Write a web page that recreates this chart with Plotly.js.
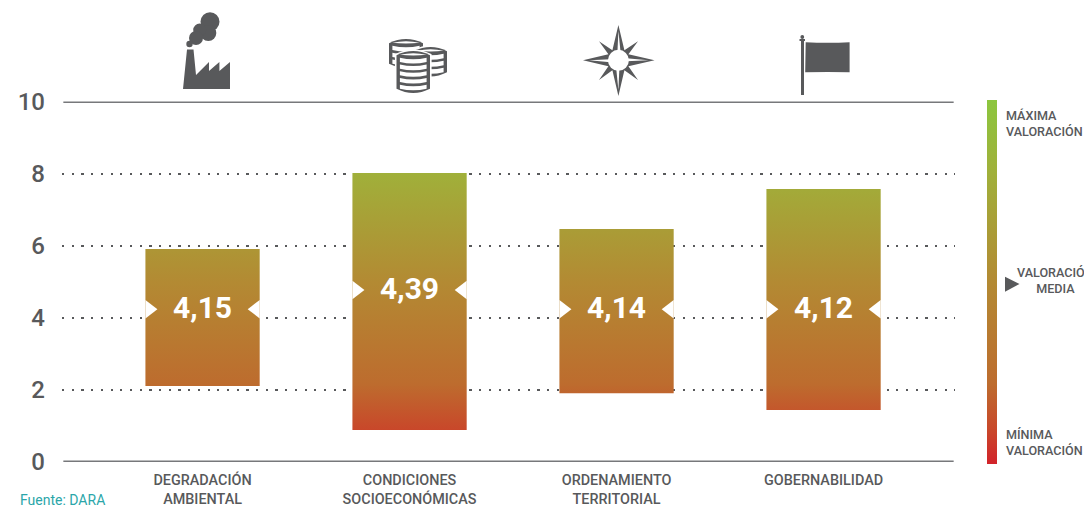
<!DOCTYPE html>
<html><head><meta charset="utf-8">
<script src="https://cdn.plot.ly/plotly-3.0.1.min.js"></script>
<style>html,body{margin:0;padding:0;background:#fff;overflow:hidden}</style></head>
<body><div id="chart" style="width:1084px;height:507px"></div>
<script>
// ---- data ----
const categories = ['DEGRADACIÓN<br>AMBIENTAL','CONDICIONES<br>SOCIOECONÓMICAS','ORDENAMIENTO<br>TERRITORIAL','GOBERNABILIDAD<br> '];
const barPositions = [0,1,2,3];
const barLow  = [2.11,0.89,1.91,1.44];
const barHigh = [5.91,8.02,6.46,7.57];
const meanPosition = [4.24,4.77,4.24,4.24];
const meanLabels = ['4,15','4,39','4,14','4,12'];
const yTicks = [0,2,4,6,8,10];

// ---- style ----
const GREY='#58595b', W=1084, H=507;
const scale=[[0,'#d2232a'],[0.09,'#c9462a'],[0.22,'#bd6c2e'],[0.5,'#b38a33'],[0.8,'#a0b03a'],[1,'#8cc63f']];
const halfW=0.276, inset=0.0193, labelNudge=0.04;
const gradient={type:'vertical',colorscale:scale,start:-0.055,stop:10.04};
const FONT='Roboto, sans-serif';

const traces=[];
barPositions.forEach((p,i)=>{
  traces.push({type:'scatter',mode:'none',xaxis:'x',yaxis:'y',showlegend:false,hoverinfo:'skip',
    x:[p-halfW,p+halfW,p+halfW,p-halfW,p-halfW],
    y:[barLow[i],barLow[i],barHigh[i],barHigh[i],barLow[i]],
    fill:'toself',fillgradient:gradient});
});
traces.push({type:'scatter',mode:'markers',xaxis:'x',yaxis:'y',showlegend:false,hoverinfo:'skip',
  x:barPositions.map(p=>p-halfW+inset),y:meanPosition,
  marker:{symbol:'triangle-right',size:16,color:'#fff'}});
traces.push({type:'scatter',mode:'markers',xaxis:'x',yaxis:'y',showlegend:false,hoverinfo:'skip',
  x:barPositions.map(p=>p+halfW-inset),y:meanPosition,
  marker:{symbol:'triangle-left',size:16,color:'#fff'}});
traces.push({type:'scatter',mode:'text',xaxis:'x',yaxis:'y',showlegend:false,hoverinfo:'skip',
  x:barPositions,y:meanPosition.map(v=>v-labelNudge),text:meanLabels,textposition:'middle center',
  textfont:{family:FONT,size:30,color:'#fff',weight:700}});
// colour key, in page pixels
traces.push({type:'scatter',mode:'none',xaxis:'x2',yaxis:'y2',showlegend:false,hoverinfo:'skip',
  x:[987,997,997,987,987],y:[464,464,100,100,464],fill:'toself',
  fillgradient:{type:'vertical',colorscale:scale,start:464,stop:100}});

// ---- icons, in page pixels ----
const shapes=[
  {type:'line',xref:'x domain',yref:'y',x0:0.0015,x1:0.9985,y0:10,y1:10,line:{color:'#77787b',width:3}},
  {type:'line',xref:'x domain',yref:'y',x0:0.0015,x1:0.9985,y0:0,y1:0,line:{color:'#77787b',width:3}}
];
const px=(path,fill,extra)=>shapes.push(Object.assign({type:'path',xref:'x2',yref:'y2',path,fillcolor:fill,line:{width:0}},extra||{}));
const circ=(cx,cy,r,fill)=>shapes.push({type:'circle',xref:'x2',yref:'y2',x0:cx-r,x1:cx+r,y0:cy-r,y1:cy+r,fillcolor:fill,line:{width:0}});
// factory
px('M183,89 L187,49.5 L193.5,49.5 L196,75 L209,62 L209,71 L219.4,62 L219.4,71 L230,62 L230,89 Z',GREY);
[[210,21.7,9.5],[208.3,33,8],[199.7,30,6.5],[196,38,7],[189.5,44,3.2]].forEach(c=>circ(c[0],c[1],c[2],GREY));
// coins
function stack(x0,x1,yT,yB,n){
  const cx=(x0+x1)/2, b=4.2;
  px(`M${x0},${yT+b} Q${cx},${yT-b} ${x1},${yT+b} L${x1},${yB-b} Q${cx},${yB+b} ${x0},${yB-b} Z`,'#fff',{line:{width:3.2,color:'#fff'}});
  px(`M${x0},${yT+b} Q${cx},${yT-b} ${x1},${yT+b} L${x1},${yB-b} Q${cx},${yB+b} ${x0},${yB-b} Z`,GREY);
  const m=3.4; const step=(yB-yT-2*b)/n;
  px(`M${x0+m},${yT+b-0.4} Q${cx},${yT-b+5} ${x1-m},${yT+b-0.4} Q${cx},${yT+b+1.2} ${x0+m},${yT+b-0.4} Z`,'#fff');
  for(let k=0;k<n;k++){
    const y=yT+b+step*k+2.6, h=step-2.6;
    px(`M${x0+m},${y} Q${cx},${y+3} ${x1-m},${y} L${x1-m},${y+h} Q${cx},${y+h+3} ${x0+m},${y+h} Z`,'#fff');
  }
}
stack(389,423,39,68,3); stack(414,447,47,76.5,3); stack(396.5,430,51,93,5);
// compass star
const cx=618.4, cy=60.3;
px(`M${cx},25 L${cx+6},${cy-10} L638,41.3 L${cx+10},${cy-6} L654.5,${cy} L${cx+10},${cy+6} L638,80 L${cx+6},${cy+10} L${cx},96 L${cx-6},${cy+10} L599,80 L${cx-10},${cy+6} L583,${cy} L${cx-10},${cy-6} L599,41.3 L${cx-6},${cy-10} Z`,GREY);
px(`M${cx},31 L${cx+2.2},${cy-8} L${cx-1},${cy-8} Z`,'#fff');
px(`M${cx},90 L${cx-2.2},${cy+8} L${cx+1},${cy+8} Z`,'#fff');
px(`M589,${cy} L${cx-8},${cy+2} L${cx-8},${cy-1} Z`,'#fff');
px(`M648.5,${cy} L${cx+8},${cy-2} L${cx+8},${cy+1} Z`,'#fff');
circ(cx,cy,10.5,'#fff');
// flag
px('M801,39 H804 V95 H801 Z',GREY);
px('M799.5,39 H805 V41 H799.5 Z',GREY);
circ(802.3,37,1.9,GREY);
px('M805.7,42.2 Q828,43.2 849.6,42.2 L849.6,72.3 Q828,71.6 805.2,72.3 Z',GREY);
// key marker
px('M1005,276.7 L1019.5,284 L1005,291.7 Z',GREY);

const txt=(x,y,text,anchor,align,size,color,weight)=>({xref:'x2',yref:'y2',x,y,text,xanchor:anchor,yanchor:'middle',align,showarrow:false,
  font:{family:FONT,size,color,weight}});
const annotations=[
  txt(1004,123.5,'MÁXIMA<br>VALORACIÓN','left','left',12.6,GREY,500),
  txt(1055.5,280.5,'VALORACIÓN<br>MEDIA','center','center',12.6,GREY,500),
  txt(1004,442.5,'MÍNIMA<br>VALORACIÓN','left','left',12.6,GREY,500),
  txt(18,500,'Fuente: DARA','left','left',14,'#2ba6a9',400)
];

const layout={
  width:W,height:H,margin:{l:0,r:0,t:0,b:0},paper_bgcolor:'#fff',plot_bgcolor:'rgba(0,0,0,0)',showlegend:false,
  xaxis:{domain:[62/W,955/W],range:[-0.679,3.635],anchor:'y',tickmode:'array',tickvals:barPositions,ticktext:categories,
    tickangle:0,ticks:'',showgrid:false,zeroline:false,showline:false,
    ticklabelstandoff:8,tickfont:{family:FONT,size:14.4,color:GREY,weight:500}},
  yaxis:{domain:[(H-462)/H,(H-101.5)/H],range:[0,10],anchor:'x',tickmode:'array',tickvals:yTicks,ticktext:yTicks.map(String),
    ticks:'',showgrid:true,gridcolor:'#58595b',gridwidth:2.2,griddash:'2.2px,7.5px',zeroline:false,showline:false,
    ticklabelstandoff:16,tickfont:{family:FONT,size:24,color:GREY,weight:500}},
  xaxis2:{domain:[0,1],range:[0,W],anchor:'y2',visible:false,fixedrange:true},
  yaxis2:{domain:[0,1],range:[H,0],anchor:'x2',visible:false,fixedrange:true},
  shapes,annotations
};
Plotly.newPlot('chart',traces,layout,{displayModeBar:false,staticPlot:true});
</script></body></html>
